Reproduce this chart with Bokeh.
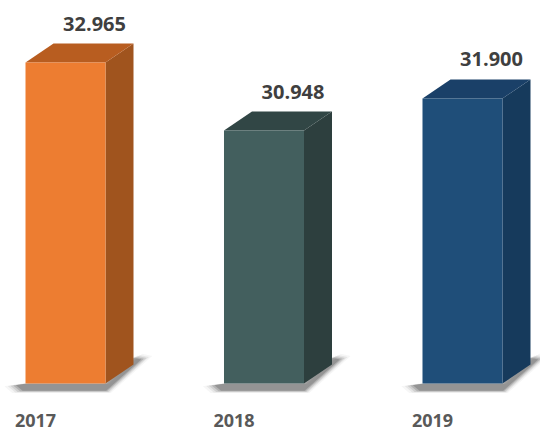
from bokeh.plotting import figure
from bokeh.models import Range1d, ColumnDataSource
from bokeh.core.properties import value
from bokeh.embed import file_html
from bokeh.resources import INLINE

# ---- data ----
years = ["2017", "2018", "2019"]
values = [32.965, 30.948, 31.900]
value_labels = ["32.965", "30.948", "31.900"]
front_colors = ["#ED7D31", "#435F5E", "#1F4E79"]
side_colors = ["#A0541E", "#2D3F3E", "#163A5C"]
top_colors = ["#B85D20", "#314645", "#1A4068"]

# ---- layout config ----
W, H = 540, 428
BASE = 23.443
X_START, X_END = -0.3275, 2.393
Y_START, Y_END = 22.108, 34.805
PX_X = (X_END - X_START) / W
PX_Y = (Y_END - Y_START) / H
HALF = 40 * PX_X
DX = 28 * PX_X
DY = 19 * PX_Y

p = figure(width=W, height=H, x_range=Range1d(X_START, X_END),
           y_range=Range1d(Y_START, Y_END), output_backend="svg",
           toolbar_location=None, min_border=0,
           x_axis_type=None, y_axis_type=None)
p.grid.visible = False
p.outline_line_color = None
p.background_fill_color = "white"

# ---- shadows (layered for soft blur) ----
shadow_shape = [(-13, -2), (-6, -8), (82, -8), (119, 25), (110, 27), (80, 0), (0, 0)]
cx, cy = 55, 5
for f, a, c in [(1.12, 0.06, "#606060"), (1.07, 0.09, "#505050"),
                (1.03, 0.13, "#404040"), (0.99, 0.18, "#333333"),
                (0.95, 0.22, "#2a2a2a")]:
    sxs, sys = [], []
    for i in range(len(values)):
        left = i - HALF
        sxs.append([left + (cx + (px - cx) * f) * PX_X for px, py in shadow_shape])
        sys.append([BASE + (cy + (py - cy) * f) * PX_Y for px, py in shadow_shape])
    p.patches(sxs, sys, fill_color=c, fill_alpha=a, line_color=None)

# ---- 3D bars ----
fx, fy, sx, sy, tx, ty = [], [], [], [], [], []
for i, v in enumerate(values):
    l, r = i - HALF, i + HALF
    fx.append([l, r, r, l]); fy.append([BASE, BASE, v, v])
    sx.append([r, r + DX, r + DX, r]); sy.append([BASE, BASE + DY, v + DY, v])
    tx.append([l, l + DX, r + DX, r]); ty.append([v, v + DY, v + DY, v])

p.patches(sx, sy, fill_color=side_colors, line_color=None)
p.patches(tx, ty, fill_color=top_colors, line_color=None)
p.patches(fx, fy, fill_color=front_colors, line_color=None)

# ---- value labels ----
lab = ColumnDataSource(dict(
    x=[i + DX + 1 * PX_X for i in range(len(values))],
    y=[v + DY + 20 * PX_Y for v in values],
    t=value_labels))
p.text("x", "y", text="t", source=lab, text_font=value("Open Sans"),
       text_font_style="bold", text_font_size="20px", text_color="#3F3F3F",
       text_align="center", text_baseline="middle")

# ---- year labels ----
yl = ColumnDataSource(dict(
    x=[i - 30 * PX_X for i in range(len(years))],
    y=[Y_START + 8 * PX_Y] * len(years),
    t=years))
p.text("x", "y", text="t", source=yl, text_font=value("Open Sans"),
       text_font_style="bold", text_font_size="18px", text_color="#595959",
       text_align="center", text_baseline="middle")

open("out.html", "w").write(file_html(p, INLINE))
